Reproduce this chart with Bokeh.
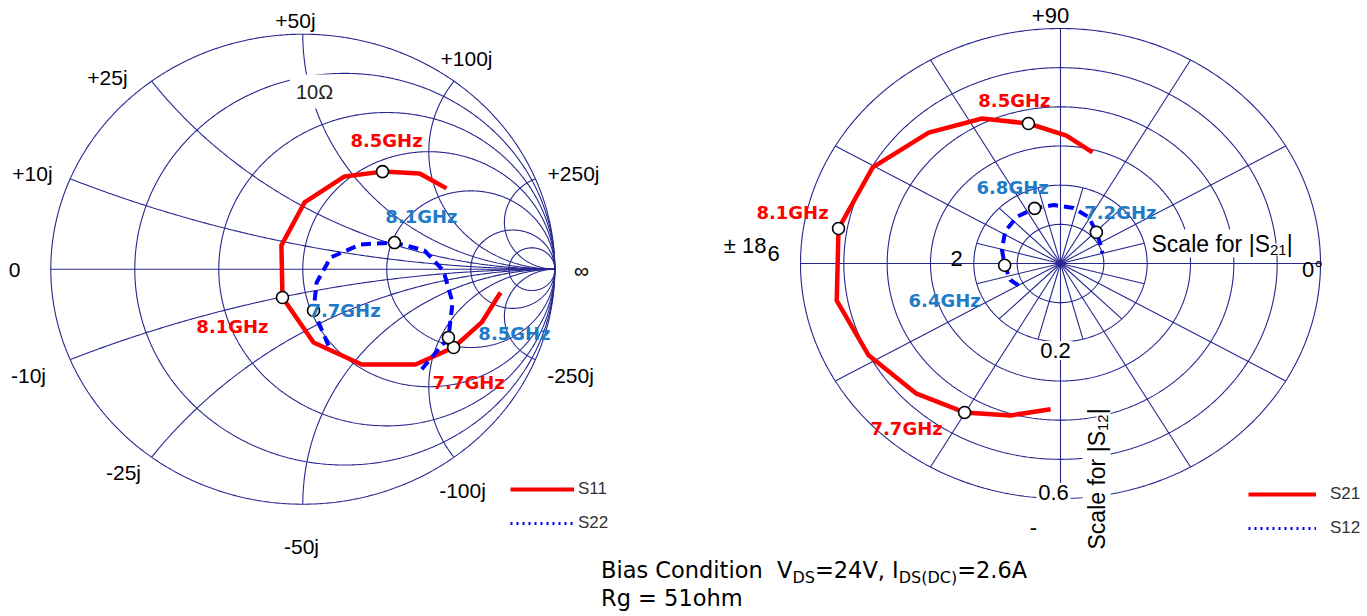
import numpy as np
from bokeh.plotting import figure
from bokeh.models import Range1d, Label, Div, Legend, LegendItem
from bokeh.layouts import column
from bokeh.embed import file_html
from bokeh.resources import INLINE

# ---------------- data ----------------
# S11 / S22 : reflection coefficient, magnitude and angle (deg)
s11_freq = [7.5, 7.6, 7.7, 7.8, 7.9, 8.0, 8.1, 8.2, 8.3, 8.4, 8.5, 8.6, 8.7]
s11_mag = [0.791, 0.745, 0.685, 0.604, 0.468, 0.315, 0.145, 0.132, 0.284, 0.428, 0.522, 0.617, 0.666]
s11_ang = [-7.2, -17.7, -29.1, -42.2, -60.1, -82.2, -123.8, 130.0, 88.6, 67.2, 52.7, 41.3, 31.1]

s22_freq = [7.6, 7.7, 7.8, 7.9, 8.0, 8.1, 8.2, 8.3, 8.4, 8.5, 8.6]
s22_mag = [0.340, 0.181, 0.079, 0.121, 0.252, 0.381, 0.489, 0.558, 0.611, 0.647, 0.636]
s22_ang = [-72.6, -76.4, -46.1, 24.4, 24.7, 17.3, 9.4, -0.6, -13.4, -26.7, -42.7]

# S21 / S12 : transmission, magnitude and angle (deg)
s21_freq = [7.5, 7.6, 7.7, 7.8, 7.9, 8.0, 8.1, 8.2, 8.3, 8.4, 8.5, 8.6, 8.7]
s21_mag = [3.73, 4.05, 4.40, 4.70, 5.01, 5.25, 5.20, 4.98, 4.52, 4.12, 3.65, 3.27, 2.93]
s21_ang = [-93.5, -106.6, -120.2, -135.0, -152.1, -169.6, 170.1, 150.5, 132.3, 116.0, 101.7, 87.6, 75.4]

s12_freq = [6.25, 6.3, 6.4, 6.5, 6.6, 6.7, 6.8, 6.9, 7.0, 7.1, 7.2, 7.3, 7.37]
s12_mag = [0.112, 0.123, 0.129, 0.140, 0.152, 0.156, 0.153, 0.150, 0.145, 0.135, 0.115, 0.104, 0.100]
s12_ang = [210.0, 200.0, 182.0, 165.0, 147.0, 130.0, 113.0, 96.0, 78.0, 61.0, 44.0, 26.0, 15.0]

s11_marks = [7.7, 8.1, 8.5]
s22_marks = [7.7, 8.1, 8.5]
s21_marks = [7.7, 8.1, 8.5]
s12_marks = [6.4, 6.8, 7.2]

# Smith chart grid (normalised to 50 ohm)
smith_r = [0.2, 0.5, 1.0, 2.0, 5.0, 10.0]
smith_x = [0.2, 0.5, 1.0, 2.0, 5.0]
smith_x_pos_labels = ["+10j", "+25j", "+50j", "+100j", "+250j"]
smith_x_neg_labels = ["-10j", "-25j", "-50j", "-100j", "-250j"]

# Polar chart grid
polar_rings = [1, 2, 3, 4, 5, 6]
polar_major_spokes = list(range(0, 360, 30))
polar_minor_spokes = list(range(15, 360, 30))
s21_full_scale = 6.0
s12_full_scale = 0.6

# ---------------- geometry ----------------
PAGE = 0
W, H = 1367, 560
L_CX, L_CY, L_RX, L_RY = 302.3, 268.7, 252.0, 235.0
R_CX, R_CY, R_RX, R_RY = 1060.0, 263.0, 260.0, 235.0
R_UX, R_UY = R_RX / s21_full_scale, R_RY / s21_full_scale
k12 = s12_full_scale / s21_full_scale

GRID = "#26268f"
RED = "#ff0000"
BLUE_LINE = "#0000ff"
BLUE_TXT = "#1e7bc8"

p = figure(width=W, height=H, output_backend="svg", toolbar_location=None,
           x_range=Range1d((PAGE - L_CX) / L_RX, (PAGE + W - L_CX) / L_RX),
           y_range=Range1d((L_CY - (PAGE + H)) / L_RY, (L_CY - PAGE) / L_RY),
           x_axis_location=None, y_axis_location=None, min_border=0,
           outline_line_color=None, background_fill_color="white",
           border_fill_color="white")
p.grid.visible = False
px_lo, px_hi = (PAGE - R_CX) / R_UX, (PAGE + W - R_CX) / R_UX
py_lo, py_hi = (R_CY - (PAGE + H)) / R_UY, (R_CY - PAGE) / R_UY
p.extra_x_ranges = {"px": Range1d(px_lo, px_hi), "qx": Range1d(px_lo * k12, px_hi * k12)}
p.extra_y_ranges = {"py": Range1d(py_lo, py_hi), "qy": Range1d(py_lo * k12, py_hi * k12)}


def sx(px):
    return px - PAGE


def sy(py):
    return H - (py - PAGE)


# ---------------- Smith chart grid ----------------
th = np.linspace(0, 2 * np.pi, 721)
gx, gy = [], []
for r in [0.0] + smith_r:
    c, R = r / (1 + r), 1 / (1 + r)
    gx.append(c + R * np.cos(th))
    gy.append(R * np.sin(th))
rr = np.concatenate([[0.0], np.logspace(-3, 5, 800)])
for xv in smith_x:
    for s in (1, -1):
        z = rr + 1j * s * xv
        g = (z - 1) / (z + 1)
        gx.append(g.real)
        gy.append(g.imag)
gx.append(np.array([-1.0, 1.0]))
gy.append(np.array([0.0, 0.0]))
p.multi_line(xs=gx, ys=gy, line_color=GRID, line_width=1.1)

# ---------------- polar grid ----------------
pxs, pys = [], []
for r in polar_rings:
    pxs.append(r * np.cos(th))
    pys.append(r * np.sin(th))
for a in polar_major_spokes:
    t = np.deg2rad(a)
    pxs.append(np.array([0, s21_full_scale * np.cos(t)]))
    pys.append(np.array([0, s21_full_scale * np.sin(t)]))
for a in polar_minor_spokes:
    t = np.deg2rad(a)
    pxs.append(np.array([0, polar_rings[1] * np.cos(t)]))
    pys.append(np.array([0, polar_rings[1] * np.sin(t)]))
p.multi_line(xs=pxs, ys=pys, line_color=GRID, line_width=1.1,
             x_range_name="px", y_range_name="py")


def to_xy(mag, ang):
    a = np.deg2rad(np.asarray(ang))
    m = np.asarray(mag)
    return m * np.cos(a), m * np.sin(a)


s11_x, s11_y = to_xy(s11_mag, s11_ang)
s22_x, s22_y = to_xy(s22_mag, s22_ang)
s21_x, s21_y = to_xy(s21_mag, s21_ang)
s12_x, s12_y = to_xy(s12_mag, s12_ang)

# ---------------- curves ----------------
p.line(s11_x, s11_y, line_color=RED, line_width=4.5, line_join="round")
p.line(s22_x, s22_y, line_color=BLUE_LINE, line_width=4, line_dash="10 6")
p.line(s21_x, s21_y, line_color=RED, line_width=4.5, line_join="round",
       x_range_name="px", y_range_name="py")
p.line(s12_x, s12_y, line_color=BLUE_LINE, line_width=4, line_dash="10 6",
       x_range_name="qx", y_range_name="qy")


def marks(xs_, ys_, freqs, sel, **kw):
    idx = [freqs.index(f) for f in sel]
    p.scatter(xs_[idx], ys_[idx], marker="circle", size=12, fill_color="white",
              line_color="black", line_width=1.6, **kw)


marks(s11_x, s11_y, s11_freq, s11_marks)
marks(s22_x, s22_y, s22_freq, s22_marks)
marks(s21_x, s21_y, s21_freq, s21_marks, x_range_name="px", y_range_name="py")
marks(s12_x, s12_y, s12_freq, s12_marks, x_range_name="qx", y_range_name="qy")


def flabel(xs_, ys_, freqs, f, color, dx, dy, xr="default", yr="default"):
    i = freqs.index(f)
    p.add_layout(Label(x=xs_[i], y=ys_[i], x_offset=dx, y_offset=dy,
                       x_range_name=xr, y_range_name=yr, text=f"{f}GHz",
                       text_color=color, text_font="DejaVu Sans",
                       text_font_style="bold", text_font_size="18px",
                       text_align="center", text_baseline="middle"))


flabel(s11_x, s11_y, s11_freq, 8.5, RED, 4, 31)
flabel(s11_x, s11_y, s11_freq, 8.1, RED, -50, -29)
flabel(s11_x, s11_y, s11_freq, 7.7, RED, 15, -35)
flabel(s22_x, s22_y, s22_freq, 8.1, BLUE_TXT, 27, 26)
flabel(s22_x, s22_y, s22_freq, 7.7, BLUE_TXT, 31, 0)
flabel(s22_x, s22_y, s22_freq, 8.5, BLUE_TXT, 66, 4)
flabel(s21_x, s21_y, s21_freq, 8.5, RED, -14, 23, "px", "py")
flabel(s21_x, s21_y, s21_freq, 8.1, RED, -46, 16, "px", "py")
flabel(s21_x, s21_y, s21_freq, 7.7, RED, -58, -16, "px", "py")
flabel(s12_x, s12_y, s12_freq, 6.8, BLUE_TXT, -22, 21, "qx", "qy")
flabel(s12_x, s12_y, s12_freq, 7.2, BLUE_TXT, 24, 20, "qx", "qy")
flabel(s12_x, s12_y, s12_freq, 6.4, BLUE_TXT, -60, -35, "qx", "qy")


# ---------------- axis texts ----------------
def txt(px, py, text, size="21px", align="center", color="black", bg=None,
        pad=0, angle=0, font="Liberation Sans", baseline="middle"):
    kw = {}
    if bg:
        kw = dict(background_fill_color=bg, padding=pad)
    p.add_layout(Label(x=sx(px), y=sy(py), x_units="screen", y_units="screen",
                       text=text, text_font=font, text_font_size=size,
                       text_color=color, text_align=align, text_baseline=baseline,
                       angle=angle, angle_units="deg", **kw))


pos_lab_xy = [(32, 173), (107, 77), (295, 20), (466, 58), (573, 173)]
neg_lab_xy = [(28, 375), (123, 472), (301, 546), (462, 490), (570, 375)]
for (lx, ly), t in zip(pos_lab_xy, smith_x_pos_labels):
    txt(lx, ly, t)
for (lx, ly), t in zip(neg_lab_xy, smith_x_neg_labels):
    txt(lx, ly, t)
txt(14, 269, "0")
txt(581, 270, "\u221e")
txt(314, 91, "10\u03a9", size="20px", color="#222222", bg="white", pad=6)

# polar chart texts
txt(1050, 15, "+90", size="22px")
txt(1312, 269, "0\u00b0", size="22px")
txt(766, 245, "\u00b1 18", size="22px", align="right")
txt(773, 253, "6", size="22px")
txt(956, 258, "2", size="22px")
txt(1055, 350, "0.2", size="22px", bg="white", pad=2)
txt(1053, 492, "0.6", size="22px", bg="white", pad=2)
txt(1033, 527, "-", size="22px")

w1 = 118.5
w2 = 16.7
txt(1150, 243, "Scale for |S", size="23px", align="left", bg="white", pad=1)
txt(1150 + w1, 249, "21", size="15px", align="left", bg="white", pad=1)
txt(1150 + w1 + w2, 243, "|", size="23px", align="left", bg="white", pad=1)

txt(1096, 550, "Scale for |S", size="23px", align="left", bg="white", pad=1, angle=90)
txt(1102, 550 - w1, "12", size="15px", align="left", bg="white", pad=1, angle=90)
txt(1096, 550 - w1 - w2, "|", size="23px", align="left", bg="white", pad=1, angle=90)

# ---------------- legends ----------------
# legend-only renderers: one point far outside the visible ranges
far = [1e6, 1e6 + 1]
la = p.line(x=far, y=far, line_color=RED, line_width=4)
lb = p.line(x=far, y=far, line_color=BLUE_LINE, line_width=3, line_dash="2 4")
lc = p.line(x=far, y=far, line_color=RED, line_width=4)
ld = p.line(x=far, y=far, line_color=BLUE_LINE, line_width=3, line_dash="2 4")


def make_legend(items, loc, gw, standoff):
    return Legend(items=items, location=loc, orientation="vertical",
                  glyph_width=gw, glyph_height=20, label_height=20,
                  spacing=14, padding=0, margin=0, label_standoff=standoff,
                  border_line_color=None, background_fill_alpha=0,
                  label_text_font="Liberation Sans", label_text_font_size="17px",
                  label_text_color="#333333")


p.add_layout(make_legend([LegendItem(label="S11", renderers=[la]),
                          LegendItem(label="S22", renderers=[lb])],
                         (sx(510), sy(533)), 64, 4), "center")
p.add_layout(make_legend([LegendItem(label="S21", renderers=[lc]),
                          LegendItem(label="S12", renderers=[ld])],
                         (sx(1248), sy(538)), 68, 14), "center")

# ---------------- bias condition text ----------------
sub = '<sub style="font-size:16px;vertical-align:-5px;line-height:0">'
bias_html = ('<div style="font-family:\'DejaVu Sans\';font-size:22.5px;line-height:28px;'
             'margin-top:-4px;color:#000;white-space:nowrap">'
             'Bias Condition&nbsp; V' + sub + 'DS</sub>=24V, I' + sub + 'DS(DC)</sub>=2.6A<br>'
             'Rg = 51ohm</div>')
div = Div(text=bias_html, width=700, height=52, margin=(0, 0, 0, 601))

layout = column(p, div, spacing=0)
open("out.html", "w").write(file_html(layout, INLINE))
